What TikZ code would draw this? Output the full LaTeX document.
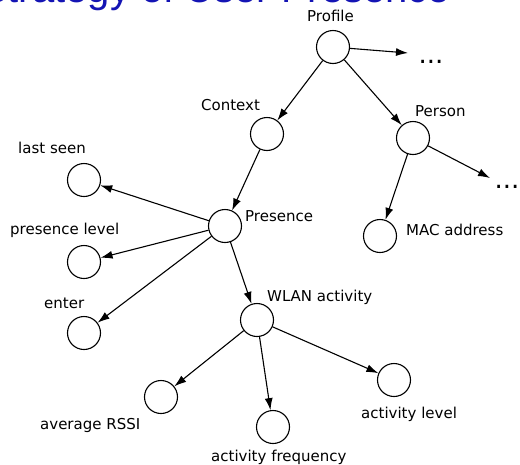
\documentclass[tikz,border=0pt]{standalone}
\usepackage{fontspec}
\setmainfont{DejaVu Sans}
\newfontfamily\titlefont{Liberation Sans}
\usetikzlibrary{arrows.meta}
\definecolor{titleblue}{RGB}{20,20,180}

\begin{document}
\begin{tikzpicture}[
  x=1pt, y=-1pt,
  concept/.style={circle, draw=black, line width=1.1pt, minimum size=33pt, inner sep=0pt},
  tag/.style={anchor=base west, inner sep=0pt, font=\fontsize{15}{18}\selectfont},
  more/.style={anchor=base, inner sep=0pt, font=\fontsize{26}{26}\selectfont},
  arrow/.style={-{Latex[length=12pt,width=8pt]}, line width=1.1pt}
]
\useasboundingbox (0,0) rectangle (520,464);
\clip (0,0) rectangle (520,464);
\node[anchor=base west, inner sep=0pt, text=titleblue, font=\titlefont\fontsize{40}{40}\selectfont] (title) at (-19,2) {Strategy of User Presence};

% concepts
\node[concept] (profile) at (333,47) {};
\node[concept] (context) at (267,134) {};
\node[concept] (person) at (413,138) {};
\node[concept] (presence) at (225,226) {};
\node[concept] (mac) at (380,236) {};
\node[concept] (lastseen) at (84,180) {};
\node[concept] (plevel) at (84,262) {};
\node[concept] (enter) at (84,333) {};
\node[concept] (wlan) at (257,320) {};
\node[concept] (rssi) at (161,397) {};
\node[concept] (freq) at (273,427) {};
\node[concept] (alevel) at (394,380) {};

% labels
\node[tag] (profile-t) at (307,21) {Profile};
\node[tag] (context-t) at (201,110) {Context};
\node[tag] (person-t) at (415,116) {Person};
\node[tag] (presence-t) at (245,221) {Presence};
\node[tag] (mac-t) at (406,235) {MAC address};
\node[tag] (lastseen-t) at (18,153) {last seen};
\node[tag] (plevel-t) at (10,234) {presence level};
\node[tag] (enter-t) at (44,308) {enter};
\node[tag] (wlan-t) at (267,301) {WLAN activity};
\node[tag] (rssi-t) at (40,429) {average RSSI};
\node[tag] (freq-t) at (211,461) {activity frequency};
\node[tag] (alevel-t) at (361,418) {activity level};

% continuation marks
\node[more] (topmore-t) at (431,63) {...};
\node[more] (sidemore-t) at (507,188) {...};
\coordinate (topmore) at (408,53);
\coordinate (sidemore) at (490,178);

\draw[arrow] (profile) -- (context);
\draw[arrow] (profile) -- (person);
\draw[arrow] (profile) -- (topmore);
\draw[arrow] (context) -- (presence);
\draw[arrow] (person) -- (mac);
\draw[arrow] (person) -- (sidemore);
\draw[arrow] (presence) -- (lastseen);
\draw[arrow] (presence) -- (plevel);
\draw[arrow] (presence) -- (enter);
\draw[arrow] (presence) -- (wlan);
\draw[arrow] (wlan) -- (rssi);
\draw[arrow] (wlan) -- (freq);
\draw[arrow] (wlan) -- (alevel);
\end{tikzpicture}
\end{document}
